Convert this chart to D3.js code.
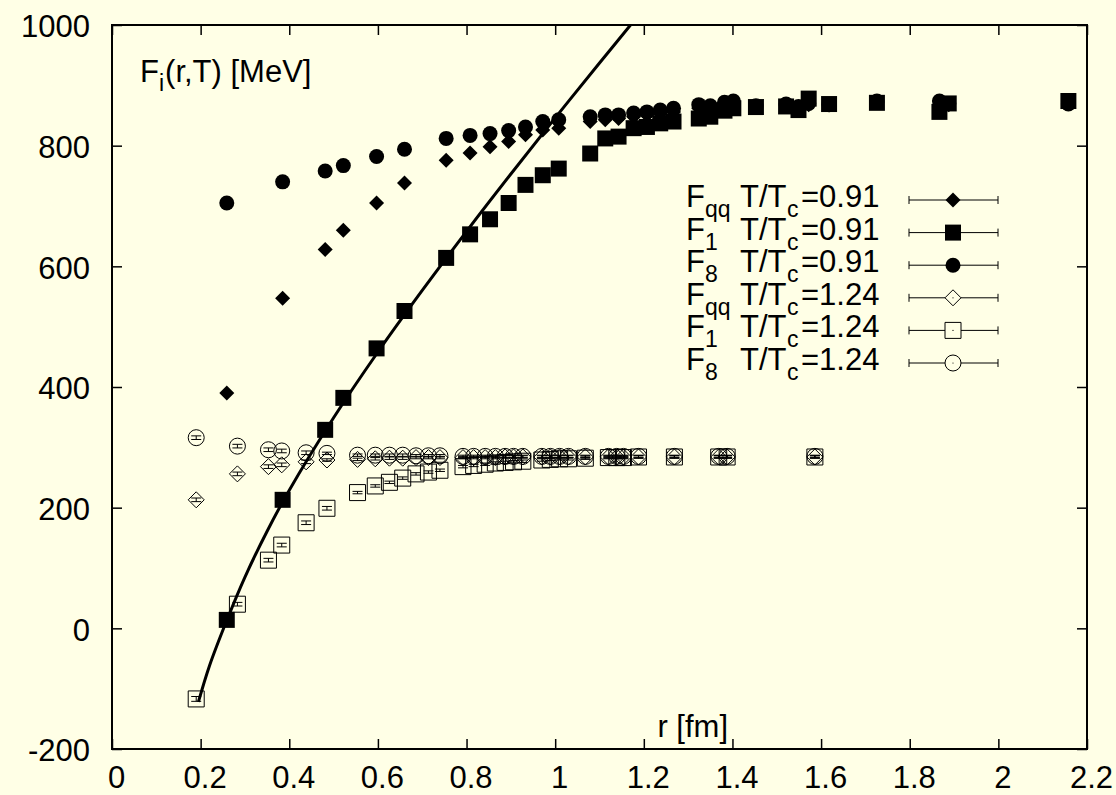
<!DOCTYPE html>
<html><head><meta charset="utf-8">
<script src="https://cdn.jsdelivr.net/npm/d3@7/dist/d3.min.js"></script>
<style>body{margin:0;background:#ffffe6;} svg{display:block;} text{font-family:"Liberation Sans",Arial,Helvetica,sans-serif;fill:#000;}</style>
</head><body>
<svg id="c" width="1116" height="795"></svg>
<script>
// ---- data ----
const xTicks = [0,0.2,0.4,0.6,0.8,1,1.2,1.4,1.6,1.8,2,2.2];
const yTicks = [-200,0,200,400,600,800,1000];

const rLow = [0.259,0.385,0.481,0.522,0.597,0.660,0.754,0.808,0.853,0.895,0.933,0.972,1.008,1.079,1.113,1.143,1.177,1.207,1.237,1.267,1.324,1.350,1.382,1.402,1.453,1.521,1.549,1.572,1.618,1.726,1.867,1.888,2.158];
const Fqq091 = [390,547,628,660,705,738,776,788,798,807,818,826,829,840,843,845,848,851,853,856,862,862,866,868,864,866,862,868,868,872,866,868,870];
const F1_091 = [14,213,329,382,464,526,614,653,678,705,735,751,762,787,812,815,829,831,837,840,845,848,858,862,864,865,859,878,869,871,856,870,874];
const F8_091 = [705,740,758,767,782,794,812,817,820,825,831,840,843,848,851,851,854,856,859,862,868,866,872,874,866,869,865,870,868,874,874,870,869];

const rHigh = [0.190,0.283,0.353,0.383,0.438,0.485,0.554,0.594,0.626,0.656,0.686,0.714,0.740,0.792,0.816,0.842,0.865,0.887,0.906,0.927,0.970,0.989,1.010,1.030,1.068,1.120,1.139,1.154,1.188,1.269,1.369,1.388,1.586];
const Fqq124 = [213,256,268,271,276,279,280,281,282,282,283,283,283,283,283,283,283,284,284,284,284,284,284,284,284,284,284,284,284,284,284,284,284];
const F1_124 = [-117,40,113,138,175,199,225,236,242,249,256,259,262,268,270,272,274,275,276,277,279,280,281,281,282,283,283,283,284,284,284,284,284];
const F8_124 = [316,302,296,294,291,290,287,287,287,287,286,286,286,285,285,285,285,285,285,285,285,285,285,285,285,285,285,285,285,285,285,285,285];
const errFqq124 = [3,3,3,3,3,2,2,2,2,2,2,2,2,2,2,2,2,2,2,2,2,2,2,2,2,2,2,2,2,2,2,2,2];
const errF1_124 = [4,3,3,3,3,3,2,2,2,2,2,2,2,2,2,2,2,2,2,2,2,2,2,2,2,2,2,2,2,2,2,2,2];
const errF8_124 = [3,3,3,3,3,2,2,2,2,2,2,2,2,2,2,2,2,2,2,2,2,2,2,2,2,2,2,2,2,2,2,2,2];

// fit curve, points
const curveR = [0.195,0.22,0.26,0.30,0.35,0.40,0.50,0.60,0.70,0.80,0.90,1.00,1.10,1.17];
const curveF = [-122,-62,15,85,161,229,349,458,560,658,753,846,937,1000];

const legendLabels = [
  {main:"F",sub:"qq",val:"=0.91"},
  {main:"F",sub:"1",val:"=0.91"},
  {main:"F",sub:"8",val:"=0.91"},
  {main:"F",sub:"qq",val:"=1.24"},
  {main:"F",sub:"1",val:"=1.24"},
  {main:"F",sub:"8",val:"=1.24"}
];

// ---- drawing ----
const svg = d3.select("#c");
svg.append("rect").attr("width",1116).attr("height",795).attr("fill","#ffffe6");
const L=112, R=1087, T=25, B=749;
const x = d3.scaleLinear().domain([0,2.2]).range([L,R]);
const y = d3.scaleLinear().domain([-200,1000]).range([B,T]);

const fmt = d => String(+d.toFixed(1));
const gx = svg.append("g").attr("transform",`translate(0,${B})`)
  .call(d3.axisBottom(x).tickValues(xTicks).tickSize(-10).tickPadding(17).tickFormat(fmt));
const gy = svg.append("g").attr("transform",`translate(${L},0)`)
  .call(d3.axisLeft(y).tickValues(yTicks).tickSize(-10).tickPadding(22).tickFormat(d=>String(d)));
const gt = svg.append("g").attr("transform",`translate(0,${T})`)
  .call(d3.axisTop(x).tickValues(xTicks).tickSize(-10).tickFormat(""));
const gr = svg.append("g").attr("transform",`translate(${R},0)`)
  .call(d3.axisRight(y).tickValues(yTicks).tickSize(-10).tickFormat(""));
[gx,gy,gt,gr].forEach(g=>{
  g.select(".domain").remove();
  g.selectAll(".tick line").attr("stroke","#000").attr("stroke-width",1.5);
  g.selectAll(".tick text").attr("font-size",31).attr("font-family","Liberation Sans, Arial, sans-serif").attr("fill","#000");
});
gx.selectAll(".tick text").attr("dx",4);
gy.selectAll(".tick text").attr("dy","0.38em");
svg.append("rect").attr("x",L).attr("y",T).attr("width",R-L).attr("height",B-T)
  .attr("fill","none").attr("stroke","#000").attr("stroke-width",2);

svg.append("clipPath").attr("id","clip").append("rect").attr("x",L).attr("y",T).attr("width",R-L).attr("height",B-T);
const plot = svg.append("g").attr("clip-path","url(#clip)");

// symbol paths
function sym(type, s){
  if(type==="square") return `M${-s},${-s}h${2*s}v${2*s}h${-2*s}Z`;
  if(type==="diamond") return `M0,${-s}L${s},0L0,${s}L${-s},0Z`;
  return `M${s},0A${s},${s} 0 1 1 ${-s},0A${s},${s} 0 1 1 ${s},0Z`;
}
const series = [
  {r:rLow,v:Fqq091,type:"diamond",fill:true,s:7.5},
  {r:rLow,v:F1_091,type:"square",fill:true,s:8},
  {r:rLow,v:F8_091,type:"circle",fill:true,s:7.5},
  {r:rHigh,v:Fqq124,e:errFqq124,type:"diamond",fill:false,s:8},
  {r:rHigh,v:F1_124,e:errF1_124,type:"square",fill:false,s:8},
  {r:rHigh,v:F8_124,e:errF8_124,type:"circle",fill:false,s:8}
];

// fit curve
plot.append("path").datum(curveR.map((r,i)=>[r,curveF[i]]))
  .attr("d",d3.line().x(d=>x(d[0])).y(d=>y(d[1])).curve(d3.curveCatmullRom))
  .attr("fill","none").attr("stroke","#000").attr("stroke-width",3);

// draw hollow first, then filled
[3,4,5,0,1,2].forEach(k=>{
  const S = series[k];
  const g = plot.append("g");
  S.r.forEach((r,i)=>{
    const cx=x(r), cy=y(S.v[i]);
    if(S.e){
      const y1=y(S.v[i]-S.e[i]), y2=y(S.v[i]+S.e[i]);
      g.append("path").attr("d",`M${cx},${y1}V${y2}M${cx-5},${y1}h10M${cx-5},${y2}h10`)
        .attr("stroke","#000").attr("stroke-width",1).attr("fill","none");
    }
    g.append("path").attr("transform",`translate(${cx},${cy})`).attr("d",sym(S.type,S.s))
      .attr("fill",S.fill?"#000":"none").attr("stroke","#000").attr("stroke-width",S.fill?0:1);
  });
});

// title & axis label
const t1 = svg.append("text").attr("x",140).attr("y",82).attr("font-size",31);
t1.append("tspan").text("F");
t1.append("tspan").attr("dy",9).attr("font-size",23).text("i");
t1.append("tspan").attr("dy",-9).attr("dx",1).text("(r,T) [MeV]");
svg.append("text").attr("x",728).attr("y",737).attr("font-size",31).attr("text-anchor","end").text("r [fm]");

// legend
legendLabels.forEach((d,i)=>{
  const yb = 207 + i*32.6;
  svg.append("text").attr("x",686).attr("y",yb).attr("font-size",31).text(d.main);
  svg.append("text").attr("x",705).attr("y",yb+10).attr("font-size",23).text(d.sub);
  svg.append("text").attr("x",740).attr("y",yb).attr("font-size",31).text("T/T");
  svg.append("text").attr("x",787).attr("y",yb+10).attr("font-size",23).text("c");
  svg.append("text").attr("x",801).attr("y",yb).attr("font-size",31).text(d.val);
  const ly = yb-7, S=series[i];
  svg.append("path").attr("d",`M909,${ly}H998M909,${ly-4}v8M998,${ly-4}v8`)
    .attr("stroke","#000").attr("stroke-width",1).attr("fill","none");
  svg.append("path").attr("transform",`translate(953,${ly})`).attr("d",sym(S.type,S.s))
    .attr("fill",S.fill?"#000":"#ffffe6").attr("stroke","#000").attr("stroke-width",S.fill?0:1);
  if(!S.fill) svg.append("circle").attr("cx",953).attr("cy",ly).attr("r",0.6).attr("fill","#000");
});
</script>
</body></html>
